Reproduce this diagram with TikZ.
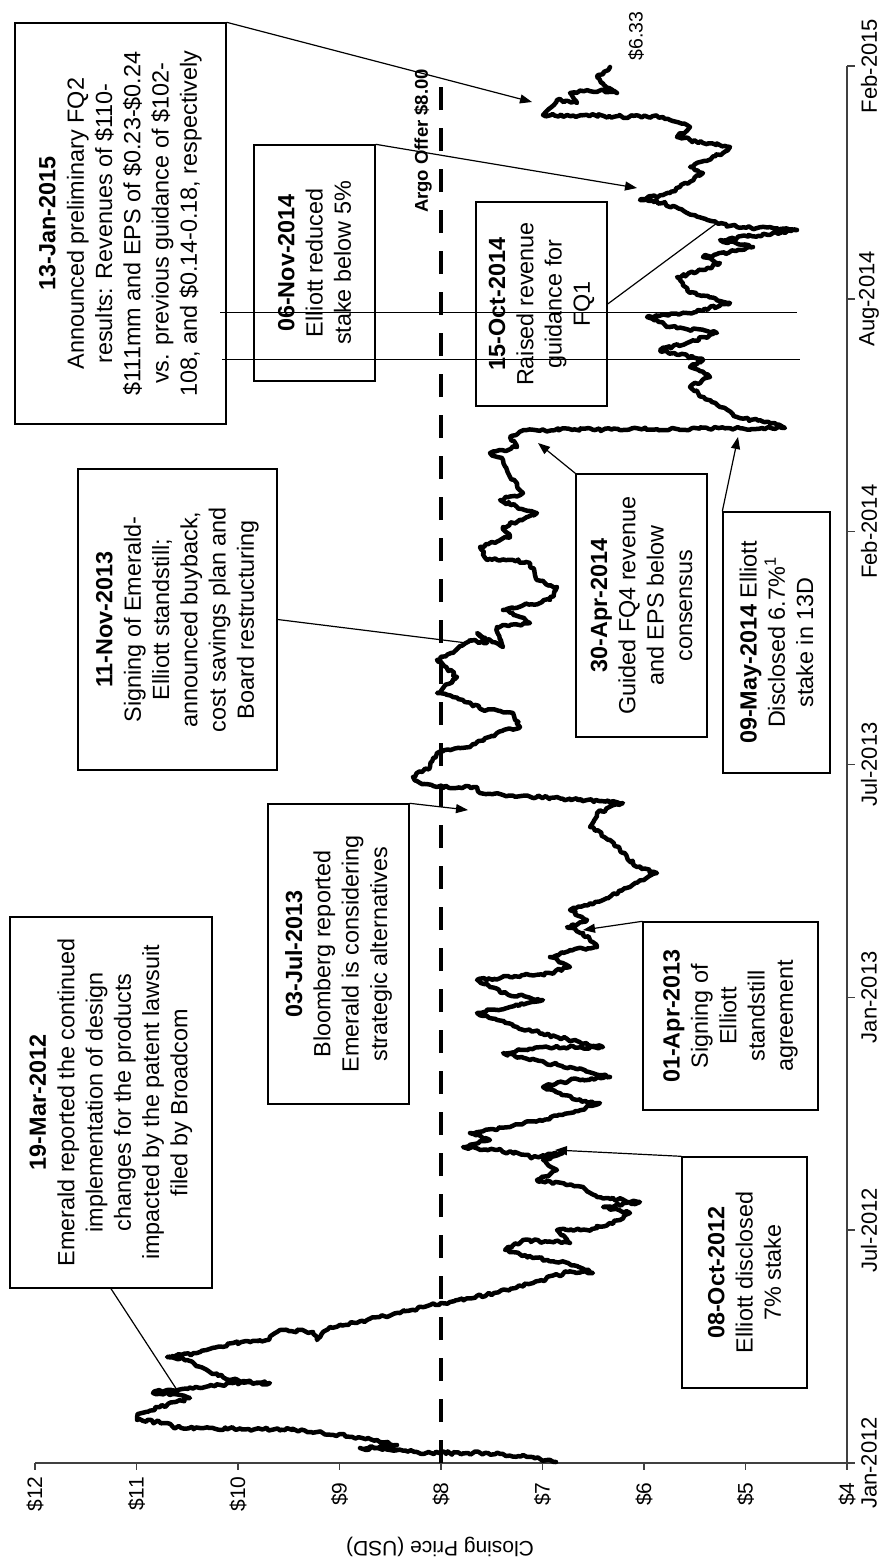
\documentclass[tikz,border=0pt]{standalone}
\usepackage{fontspec}
\setmainfont{Liberation Sans}
\usetikzlibrary{arrows.meta,decorations.pathmorphing}
\begin{document}
\pgfmathsetseed{7}
\begin{tikzpicture}[x=1pt,y=-1pt,
  evbox/.style={draw=black, line width=1.4pt, rotate=90, align=center, inner sep=0pt,
    font=\fontsize{23.4}{28.3}\selectfont},
  conn/.style={draw=black, line width=1.2pt},
  arr/.style={conn, -{Triangle[length=12pt,width=9pt]}},
  axisline/.style={draw=black!75, line width=1.4pt},
  datelab/.style={rotate=90, inner sep=0pt, font=\fontsize{22}{24}\selectfont},
  pricelab/.style={rotate=90, inner sep=0pt, font=\fontsize{21}{23}\selectfont},
  price/.style={draw=black, line width=4.5pt, line join=round, line cap=round,
    decorate, decoration={random steps, segment length=3pt, amplitude=1.6pt}},
  offer/.style={draw=black, line width=4.5pt, dash pattern=on 23pt off 18pt},
  hair/.style={draw=black, line width=0.9pt}
]
\useasboundingbox (0,0) rectangle (890,1564);

% axes
\draw[axisline] (35,1463) -- (847,1463);
\draw[axisline] (847,1463) -- (847,66);
\foreach \k in {0,...,8} {\draw[axisline] (35+101.5*\k,1463) -- (35+101.5*\k,1470);}
\foreach \k in {0,...,6} {\draw[axisline] (847,1463-232.83*\k) -- (855,1463-232.83*\k);}

% price labels
\node[pricelab] (p12) at (35,1494) {\$12};
\node[pricelab] (p11) at (136.5,1494) {\$11};
\node[pricelab] (p10) at (238,1494) {\$10};
\node[pricelab] (p9) at (339.5,1494) {\$9};
\node[pricelab] (p8) at (441,1494) {\$8};
\node[pricelab] (p7) at (542.5,1494) {\$7};
\node[pricelab] (p6) at (644,1494) {\$6};
\node[pricelab] (p5) at (745.5,1494) {\$5};
\node[pricelab] (p4) at (847,1494) {\$4};
\node[rotate=180, inner sep=0pt, font=\fontsize{21}{23}\selectfont] (ytitle) at (440,1547) {Closing Price (USD)};

% date labels
\node[datelab] (d0) at (869,1463) {Jan-2012};
\node[datelab] (d1) at (869,1230.2) {Jul-2012};
\node[datelab] (d2) at (869,997.3) {Jan-2013};
\node[datelab] (d3) at (869,764.5) {Jul-2013};
\node[datelab] (d4) at (869,531.7) {Feb-2014};
\node[datelab] (d5) at (869,298.8) {Aug-2014};
\node[datelab] (d6) at (869,66) {Feb-2015};

% Argo offer line
\draw[offer] (441,1463) -- (441,72);
\node[rotate=90, inner sep=0pt, font=\bfseries\fontsize{18.5}{20}\selectfont] (argo) at (423,141) {Argo Offer \$8.00};

% price curve
\draw[price] (556,1462) -- (533,1457) -- (488,1453) -- (439,1453) -- (417,1452) -- (360,1448) -- (397,1445) -- (377,1440) -- (317,1432) -- (303,1430) -- (200,1428) -- (173,1427) -- (167,1423) -- (137,1420) -- (137,1415) -- (160,1407) -- (190,1398) -- (180,1395) -- (153,1393) -- (167,1390) -- (200,1388) -- (233,1383) -- (270,1383) -- (230,1380) -- (207,1370) -- (187,1360) -- (167,1357) -- (197,1353) -- (233,1343) -- (267,1340) -- (280,1330) -- (313,1332) -- (317,1340) -- (330,1327) -- (367,1320) -- (400,1313) -- (430,1305) -- (450,1302) -- (494,1293) -- (533,1283) -- (568,1272) -- (593,1273) -- (568,1263) -- (533,1258) -- (505,1250)
 -- (523,1240) -- (570,1243) -- (557,1230) -- (587,1230) -- (620,1220) -- (630,1213) -- (603,1207) -- (640,1202) -- (597,1197) -- (583,1187) -- (537,1180) -- (557,1170) -- (543,1160) -- (563,1153) -- (533,1157) -- (497,1150) -- (463,1147) -- (490,1140) -- (470,1133) -- (510,1127) -- (540,1120) -- (570,1113) -- (600,1103) -- (577,1100) -- (543,1087) -- (570,1080) -- (610,1077) -- (570,1067) -- (530,1060) -- (503,1053) -- (543,1047) -- (603,1047) -- (557,1037) -- (517,1027) -- (477,1013) -- (510,1007) -- (543,1000) -- (503,993) -- (490,987) -- (477,980) -- (510,977) -- (550,973) -- (570,967) -- (550,957) -- (570,950) -- (597,947) -- (583,933) -- (567,927) -- (587,920) -- (570,910) -- (603,900) -- (630,887) -- (657,873) -- (637,867) -- (623,853) -- (610,840) -- (590,827) -- (597,813) -- (623,803) -- (587,800) -- (537,797) -- (480,793) -- (477,787) -- (437,787) -- (420,783) -- (413,777) -- (430,767)
 -- (437,753) -- (470,747) -- (497,733) -- (520,727) -- (513,713) -- (487,710) -- (453,697) -- (437,693) -- (457,677) -- (437,660) -- (453,653) -- (470,640) -- (487,643) -- (477,633) -- (503,647) -- (497,627) -- (530,623) -- (513,613) -- (503,610) -- (550,600) -- (557,587) -- (537,580) -- (530,563) -- (513,560) -- (487,560) -- (480,547) -- (510,537) -- (503,527) -- (537,513) -- (517,507) -- (500,500) -- (523,493) -- (510,477) -- (503,460) -- (490,453) -- (517,447) -- (510,437) -- (527,430) -- (785,428) -- (770,423) -- (737,417) -- (720,407) -- (703,397) -- (690,387) -- (710,377) -- (690,367) -- (703,360) -- (660,350) -- (687,343) -- (717,333) -- (670,327) -- (647,317) -- (687,313) -- (730,303) -- (690,293) -- (677,277) -- (703,270) -- (720,263)
 -- (703,257) -- (753,247) -- (720,240) -- (797,230) -- (737,227) -- (717,223) -- (687,213) -- (663,203) -- (640,200) -- (670,193) -- (703,173) -- (690,167) -- (723,153) -- (730,147) -- (703,143) -- (677,137) -- (690,127) -- (670,120) -- (663,117) -- (543,115) -- (557,100) -- (577,103) -- (570,93) -- (603,90) -- (617,93) -- (603,83) -- (597,77) -- (610,67);
\node[rotate=90, inner sep=0pt, font=\fontsize{19.5}{21}\selectfont] (endlab) at (636,36) {\$6.33};

% event boxes
\node[evbox, minimum width=401pt, minimum height=211pt] (b13jan) at (120.5,223.5)
  {\textbf{13-Jan-2015}\\Announced preliminary FQ2\\results: Revenues of \$110-\\\$111mm and EPS of \$0.23-\$0.24\\vs. previous guidance of \$102-\\108, and \$0.14-0.18, respectively};
\node[evbox, minimum width=236pt, minimum height=121pt] (b06nov) at (314.5,263)
  {\textbf{06-Nov-2014}\\Elliott reduced\\stake below 5\%};
\node[evbox, minimum width=301pt, minimum height=199pt] (b11nov) at (177.5,619.5)
  {\textbf{11-Nov-2013}\\Signing of Emerald-\\Elliott standstill;\\announced buyback,\\cost savings plan and\\Board restructuring};
\node[evbox, minimum width=371pt, minimum height=202pt] (b19mar) at (111,1102.5)
  {\textbf{19-Mar-2012}\\Emerald reported the continued\\implementation of design\\changes for the products\\impacted by the patent lawsuit\\filed by Broadcom};
\node[evbox, minimum width=300pt, minimum height=141pt] (b03jul) at (338.5,954)
  {\textbf{03-Jul-2013}\\Bloomberg reported\\Emerald is considering\\strategic alternatives};
\node[evbox, minimum width=231pt, minimum height=125pt] (b08oct) at (744.5,1272.5)
  {\textbf{08-Oct-2012}\\Elliott disclosed\\7\% stake};
\node[evbox, minimum width=188pt, minimum height=175pt] (b01apr) at (730.5,1016)
  {\textbf{01-Apr-2013}\\Signing of\\Elliott\\standstill\\agreement};
\node[evbox, minimum width=263pt, minimum height=131pt] (b30apr) at (641.5,605.5)
  {\textbf{30-Apr-2014}\\Guided FQ4 revenue\\and EPS below\\consensus};
\node[evbox, minimum width=261pt, minimum height=107pt] (b09may) at (776.5,642.5)
  {\textbf{09-May-2014} Elliott\\Disclosed 6.7\%\textsuperscript{1}\\stake in 13D};
\node[evbox, minimum width=204pt, minimum height=131pt] (b15oct) at (541.5,304)
  {\textbf{15-Oct-2014}\\Raised revenue\\guidance for\\FQ1};

% connector targets on the curve
\coordinate (t13jan) at (532,102);
\coordinate (t06nov) at (637,188);
\coordinate (t11nov) at (467,643);
\coordinate (t19mar) at (177,1390);
\coordinate (t03jul) at (468,810);
\coordinate (t01apr) at (583,930);
\coordinate (t08oct) at (555,1150);
\coordinate (t30apr) at (538,443);
\coordinate (t09may) at (738,437);
\coordinate (t15oct) at (717,223);

\draw[arr] (b13jan.south east) -- (t13jan);
\draw[arr] (b06nov.south east) -- (t06nov);
\draw[conn] (b11nov.south) -- (t11nov);
\draw[conn] (b19mar.west) -- (t19mar);
\draw[arr] (b03jul.south east) -- (t03jul);
\draw[arr] (b01apr.north east) -- (t01apr);
\draw[arr] (b08oct.north east) -- (t08oct);
\draw[arr] (b30apr.north east) -- (t30apr);
\draw[arr] (b09may.north east) -- (t09may);
\draw[conn] (b15oct.south) -- (t15oct);

% two thin horizontal rules
\coordinate (h1a) at (220,312); \coordinate (h1b) at (797,312);
\coordinate (h2a) at (222,359); \coordinate (h2b) at (800,359);
\draw[hair] (h1a) -- (h1b);
\draw[hair] (h2a) -- (h2b);
\end{tikzpicture}
\end{document}
